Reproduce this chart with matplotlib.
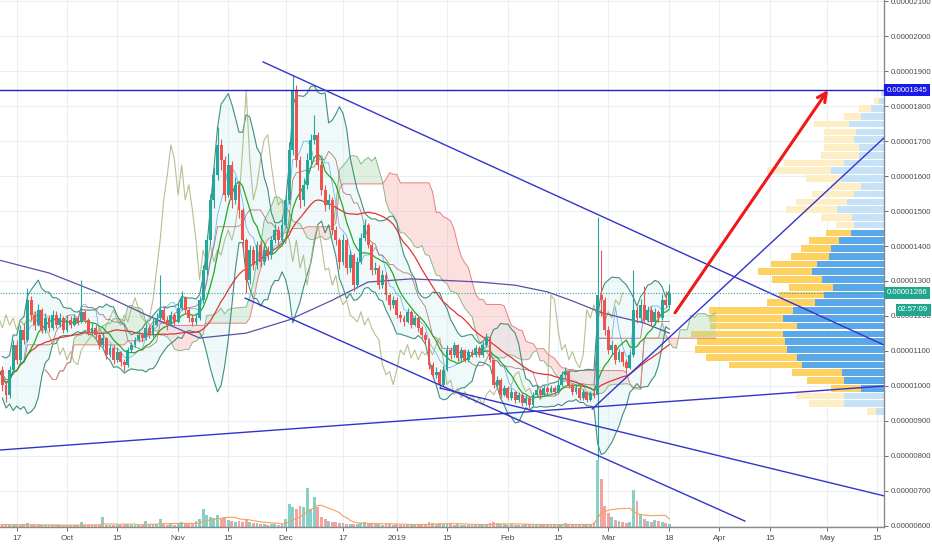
import numpy as np
import pandas as pd
import matplotlib
matplotlib.use("Agg")
import matplotlib.pyplot as plt
from matplotlib.transforms import blended_transform_factory

plt.rcParams['font.family'] = ['Liberation Sans', 'DejaVu Sans']

# ---------------- data (prices in units of 1e-8) ----------------
# daily candles, day 0 = 2018-09-12
closes = [
    1046, 1004, 975, 1046, 1118, 1075, 1160, 1132, 1246, 1203,
    1174, 1218, 1160, 1194, 1166, 1203, 1174, 1194, 1160, 1189,
    1174, 1194, 1183, 1212, 1189, 1154, 1166, 1146, 1118, 1138,
    1089, 1109, 1075, 1098, 1069, 1061, 1103, 1118, 1132, 1146,
    1138, 1166, 1146, 1174, 1194, 1218, 1189, 1174, 1203, 1183,
    1223, 1252, 1218, 1194, 1183, 1194, 1246, 1331, 1417, 1532,
    1603, 1689, 1646, 1546, 1631, 1532, 1575, 1503, 1417, 1303,
    1389, 1346, 1403, 1355, 1389, 1374, 1417, 1446, 1417, 1460,
    1532, 1674, 1846, 1646, 1532, 1575, 1646, 1703, 1718, 1631,
    1560, 1517, 1532, 1446, 1417, 1355, 1417, 1337, 1374, 1288,
    1355, 1423, 1460, 1403, 1331, 1337, 1288, 1316, 1260, 1232,
    1246, 1203, 1194, 1183, 1212, 1174, 1194, 1166, 1146, 1132,
    1061, 1032, 1041, 1004, 1046, 1103, 1089, 1118, 1080, 1103,
    1075, 1098, 1089, 1109, 1089, 1118, 1138, 1075, 1004, 1017,
    975, 994, 966, 984, 960, 975, 951, 966, 946, 975,
    988, 975, 994, 984, 994, 984, 1004, 1032, 1041, 1004,
    984, 994, 966, 984, 960, 981, 975, 1260, 1246, 1160,
    1103, 1118, 1075, 1098, 1069, 1052, 1089, 1218, 1194, 1232,
    1189, 1218, 1183, 1212, 1194, 1246, 1232, 1266]
first_open = 1023
highs = [
    1082, 1058, 1014, 1058, 1131, 1131, 1174, 1179, 1280, 1257,
    1213, 1233, 1223, 1209, 1204, 1218, 1213, 1209, 1199, 1204,
    1199, 1207, 1199, 1303, 1218, 1194, 1179, 1174, 1155, 1150,
    1140, 1121, 1116, 1111, 1101, 1077, 1111, 1126, 1140, 1160,
    1155, 1179, 1174, 1194, 1209, 1316, 1228, 1199, 1213, 1209,
    1238, 1272, 1257, 1223, 1204, 1209, 1257, 1345, 1432, 1549,
    1627, 1740, 1705, 1656, 1666, 1642, 1598, 1583, 1510, 1423,
    1404, 1399, 1413, 1413, 1404, 1399, 1428, 1462, 1457, 1476,
    1549, 1696, 1889, 1861, 1656, 1593, 1666, 1720, 1774, 1725,
    1642, 1574, 1549, 1540, 1457, 1423, 1433, 1423, 1389, 1379,
    1369, 1438, 1476, 1467, 1408, 1355, 1345, 1331, 1326, 1267,
    1257, 1253, 1213, 1204, 1223, 1218, 1204, 1199, 1170, 1155,
    1136, 1068, 1053, 1048, 1058, 1116, 1111, 1126, 1121, 1111,
    1107, 1107, 1107, 1116, 1113, 1126, 1150, 1140, 1077, 1029,
    1024, 1004, 1000, 993, 987, 983, 980, 975, 970, 983,
    1000, 994, 1004, 1000, 1003, 1000, 1014, 1043, 1053, 1045,
    1009, 1004, 1000, 990, 987, 987, 990, 1483, 1389, 1253,
    1170, 1131, 1121, 1107, 1101, 1077, 1101, 1331, 1228, 1248,
    1287, 1228, 1228, 1223, 1218, 1262, 1272, 1290]
lows = [
    1009, 985, 955, 965, 1033, 1063, 1068, 1121, 1126, 1189,
    1160, 1170, 1150, 1150, 1155, 1160, 1165, 1168, 1150, 1155,
    1165, 1170, 1174, 1179, 1179, 1145, 1145, 1136, 1106, 1111,
    1077, 1082, 1063, 1068, 1058, 1043, 1053, 1097, 1111, 1126,
    1126, 1131, 1136, 1140, 1170, 1189, 1179, 1160, 1170, 1174,
    1179, 1218, 1209, 1184, 1170, 1174, 1189, 1238, 1316, 1404,
    1510, 1588, 1617, 1530, 1540, 1510, 1520, 1481, 1394, 1266,
    1291, 1330, 1335, 1340, 1345, 1359, 1364, 1408, 1404, 1408,
    1452, 1520, 1661, 1627, 1510, 1515, 1564, 1632, 1691, 1617,
    1545, 1501, 1506, 1433, 1404, 1335, 1345, 1321, 1326, 1272,
    1281, 1350, 1413, 1394, 1316, 1321, 1277, 1281, 1247, 1218,
    1223, 1194, 1184, 1170, 1179, 1165, 1170, 1155, 1136, 1121,
    1048, 1019, 1024, 990, 1000, 1043, 1077, 1082, 1072, 1072,
    1068, 1068, 1082, 1082, 1082, 1082, 1111, 1068, 994, 994,
    966, 970, 960, 960, 951, 954, 944, 946, 938, 941,
    970, 967, 970, 977, 980, 975, 980, 1000, 1024, 994,
    975, 977, 960, 960, 954, 956, 967, 790, 1199, 1145,
    1092, 1092, 1063, 1068, 1058, 1038, 1048, 1082, 1179, 1184,
    1179, 1184, 1170, 1174, 1184, 1189, 1223, 1223]
volumes = [
    6, 5, 8, 5, 6, 4, 5, 7, 9, 5,
    4, 5, 4, 6, 5, 4, 5, 4, 6, 5,
    4, 5, 4, 12, 6, 5, 4, 5, 6, 25,
    6, 5, 4, 5, 6, 5, 7, 6, 5, 6,
    5, 15, 6, 7, 8, 20, 7, 6, 8, 6,
    10, 12, 8, 7, 9, 15, 20, 45, 30, 25,
    22, 30, 20, 25, 18, 15, 12, 15, 14, 20,
    12, 10, 9, 8, 7, 6, 7, 8, 6, 7,
    20, 60, 50, 45, 55, 50, 100, 45, 77, 50,
    25, 20, 15, 14, 12, 10, 9, 8, 7, 8,
    7, 10, 12, 8, 9, 8, 7, 6, 8, 7,
    6, 7, 6, 5, 7, 6, 5, 6, 7, 8,
    12, 10, 8, 9, 8, 10, 7, 6, 7, 6,
    6, 5, 6, 5, 6, 7, 8, 10, 12, 9,
    8, 7, 6, 7, 6, 5, 6, 7, 8, 6,
    7, 6, 5, 6, 5, 7, 6, 8, 9, 7,
    6, 5, 6, 5, 6, 8, 12, 172, 123, 55,
    35, 25, 18, 15, 12, 10, 14, 95, 67, 30,
    20, 15, 12, 18, 15, 12, 10, 8]

# 200-period moving average (day, price)
ma200_days = [0, 14, 28, 42, 56, 69, 81, 93, 103, 115, 126, 134, 144, 153, 160, 168, 173, 180, 187]
ma200_vals = [1360, 1323, 1266, 1199, 1137, 1151, 1189, 1245, 1297, 1306, 1301, 1297, 1288, 1269,
              1243, 1210, 1197, 1180, 1151]

# volume profile rows (top to bottom), up / down volume, value-area flag
prof_top, prof_step = 1837, 22.2
prof_up = [3, 5, 13.3, 23.3, 35, 28.3, 30, 25, 25, 40, 53.3, 43.3, 23.3, 30, 36.7, 46.7, 31.7, 30,
           33.3, 45, 53.3, 55, 66.7, 71.7, 61.7, 50.7, 60, 69.3, 90.7, 100.7, 87.3, 100.7, 99.3, 96.7,
           86.7, 81.7, 41.7, 40, 23.3, 40, 40, 8.3]
prof_down = [0, 5, 11.7, 16.7, 35, 31.7, 30, 35, 38.3, 60, 63.3, 35, 30, 41.7, 51.7, 51.7, 31.7, 18.3,
             25, 30, 30, 38.3, 46.7, 54.3, 50, 44.3, 45, 48, 84.3, 74.3, 86.7, 92, 88, 92.7,
             91.7, 73.3, 50, 37.3, 30, 48.3, 35, 8.3]
value_area = [False] * 18 + [True] * 21 + [False] * 3

# drawn trend lines: ((day, price), (day, price))
trend_lines = [
    ((73.7, 1926), (246.9, 1117)),
    ((68.7, 1251), (208.1, 614)),
    ((123.1, 994), (246.9, 686)),
    ((0.33, 817), (246.9, 1000)),
    ((165.5, 934), (246.9, 1709)),
]
resistance = 1845
last_price = 1266
countdown = "02:57:09"
arrow_from = (188.6, 1209)
arrow_to = (231.3, 1846)

tick_days = [5, 19, 33, 50, 64, 80, 96, 111, 125, 142, 156, 170, 187, 201, 215, 231, 245]
tick_labels = ['17', 'Oct', '15', 'Nov', '15', 'Dec', '17', '2019', '15', 'Feb', '15', 'Mar',
               '18', 'Apr', '15', 'May', '15']
price_ticks = list(range(600, 2101, 100))

# ---------------- derived series ----------------
c = np.array(closes, float)
h = np.array(highs, float)
l = np.array(lows, float)
o = np.array([first_open] + closes[:-1], float)
v = np.array(volumes, float)
d = np.arange(len(c))
s = pd.DataFrame({'h': h, 'l': l, 'c': c, 'v': v})

ma_fast = s.c.rolling(9, min_periods=1).mean()
ma_slow = s.c.rolling(30, min_periods=1).mean()
bb_mid = s.c.rolling(10, min_periods=2).mean()
bb_std = s.c.rolling(10, min_periods=2).std()
bb_up = bb_mid + 2 * bb_std
bb_lo = bb_mid - 2 * bb_std
tenkan = (s.h.rolling(5, 1).max() + s.l.rolling(5, 1).min()) / 2
kijun = (s.h.rolling(13, 1).max() + s.l.rolling(13, 1).min()) / 2
spanA = (tenkan + kijun) / 2
spanB = (s.h.rolling(26, 1).max() + s.l.rolling(26, 1).min()) / 2
shift = 13
vol_ma = s.v.rolling(10, min_periods=1).mean()

# ---------------- figure ----------------
W, H = 932, 550
AX_W, AX_H = 884, 527
fig = plt.figure(figsize=(W / 100, H / 100), dpi=100)
rect = [0, (H - AX_H) / H, AX_W / W, AX_H / H]
XL = (0.33, 246.9)
YL = (597, 2103)

ax_bg = fig.add_axes(rect)
ax_bg.set_xlim(*XL); ax_bg.set_ylim(*YL)
ax_bg.set_xticks(tick_days); ax_bg.set_yticks(price_ticks)
ax_bg.grid(True, color='#eceef3', lw=0.8)
ax_bg.tick_params(left=False, bottom=False, labelleft=False, labelbottom=False)
for sp in ax_bg.spines.values():
    sp.set_visible(False)

# volume
ax_v = fig.add_axes(rect)
ax_v.set_xlim(*XL); ax_v.set_ylim(0, 1351)
ax_v.patch.set_visible(False)
up_mask = c >= o
vcol = np.where(up_mask, '#86d0c8', '#f5a3a0')
ax_v.bar(d, v, width=0.8, color=vcol, linewidth=0)
ax_v.plot(d, vol_ma, color='#f5a05a', lw=0.8)
ax_v.axis('off')

# volume profile
ax_p = fig.add_axes(rect)
ax_p.set_xlim(AX_W, 0); ax_p.set_ylim(*YL)
ax_p.patch.set_visible(False)
levels = prof_top - prof_step * np.arange(len(prof_up))
for lv, u, dn, va in zip(levels, prof_up, prof_down, value_area):
    cu = '#5aa8e8' if va else '#c6e2f7'
    cd = '#fdd262' if va else '#fdeec6'
    ax_p.barh(lv, u, left=0, height=prof_step * 0.86, color=cu, linewidth=0)
    ax_p.barh(lv, dn, left=u, height=prof_step * 0.86, color=cd, linewidth=0)
ax_p.axis('off')

# main price axes
ax = fig.add_axes(rect)
ax.set_xlim(*XL); ax.set_ylim(*YL)
ax.patch.set_visible(False)

# ichimoku cloud
xs = d + shift
ax.fill_between(xs, spanA, spanB, where=spanA >= spanB, color='#a5d6a7', alpha=0.35,
                interpolate=True, linewidth=0)
ax.fill_between(xs, spanA, spanB, where=spanA < spanB, color='#f7a8a8', alpha=0.35,
                interpolate=True, linewidth=0)
ax.plot(xs, spanA, color='#86b986', lw=0.7)
ax.plot(xs, spanB, color='#e88080', lw=0.7)

# bollinger bands
ax.fill_between(d, bb_lo, bb_up, color='#d2eef2', alpha=0.35, linewidth=0)
ax.plot(d, bb_up, color='#3f8f7e', lw=0.8)
ax.plot(d, bb_lo, color='#3f8f7e', lw=0.8)

# lagging span
ax.plot(d - shift, c, color='#a9b57e', lw=0.8, alpha=0.85)
# tenkan / kijun
ax.plot(d, tenkan, color='#6fb6f0', lw=0.6)
ax.plot(d, kijun, color='#a55a5a', lw=0.6, alpha=0.8)

# moving averages
ax.plot(ma200_days, ma200_vals, color='#5c4fa8', lw=0.9)
ax.plot(d, ma_slow, color='#e03535', lw=0.9)
ax.plot(d, ma_fast, color='#22aa22', lw=0.9)

# candles
ccol = np.where(up_mask, '#26a69a', '#ef5350')
ax.vlines(d, l, h, colors=ccol, lw=0.8, zorder=5)
ax.bar(d, np.maximum(np.abs(c - o), 2.5), bottom=np.minimum(o, c), width=0.8,
       color=ccol, linewidth=0, zorder=6)

# lines
ax.axhline(resistance, color='#2222cc', lw=1, zorder=7)
for (x0, y0), (x1, y1) in trend_lines:
    ax.plot([x0, x1], [y0, y1], color='#3333cc', lw=1, zorder=7)
ax.axhline(last_price, color='#26a69a', lw=0.8, ls=(0, (1, 1.5)), zorder=7)
ax.annotate('', xy=arrow_to, xytext=arrow_from, zorder=8,
            arrowprops=dict(arrowstyle='->', color='#f01818', lw=2.2, mutation_scale=16,
                            shrinkA=0, shrinkB=0))

# axes styling
ax.yaxis.tick_right()
ax.set_yticks(price_ticks)
ax.set_yticklabels([f"{p * 1e-8:.8f}" for p in price_ticks])
ax.set_xticks(tick_days)
ax.set_xticklabels(tick_labels)
ax.tick_params(axis='y', labelsize=5.6, colors='#555555', length=3, width=0.6, pad=2)
ax.tick_params(axis='x', labelsize=6, colors='#555555', length=3, width=0.6, pad=3)
for lab in ax.get_yticklabels() + ax.get_xticklabels():
    lab.set_color('#4a4a4a')
for k in ['top', 'left']:
    ax.spines[k].set_visible(False)
for k in ['right', 'bottom']:
    ax.spines[k].set_color('#8a8a8a')
    ax.spines[k].set_linewidth(1)

trans = blended_transform_factory(ax.transAxes, ax.transData)
ax.text(1.003, resistance, f"{resistance * 1e-8:.8f}", transform=trans, fontsize=5.6,
        color='white', va='center', ha='left', zorder=10,
        bbox=dict(boxstyle='square,pad=0.3', fc='#1a1ae6', ec='none'))
ax.text(1.003, last_price, f"{last_price * 1e-8:.8f}", transform=trans, fontsize=5.6,
        color='white', va='center', ha='left', zorder=10,
        bbox=dict(boxstyle='square,pad=0.3', fc='#22a58f', ec='none'))
ax.text(1.05, last_price - 48, countdown, transform=trans, fontsize=5.6,
        color='white', va='center', ha='right', zorder=10,
        bbox=dict(boxstyle='square,pad=0.3', fc='#22a58f', ec='none'))

fig.savefig("out.png", dpi=100)
